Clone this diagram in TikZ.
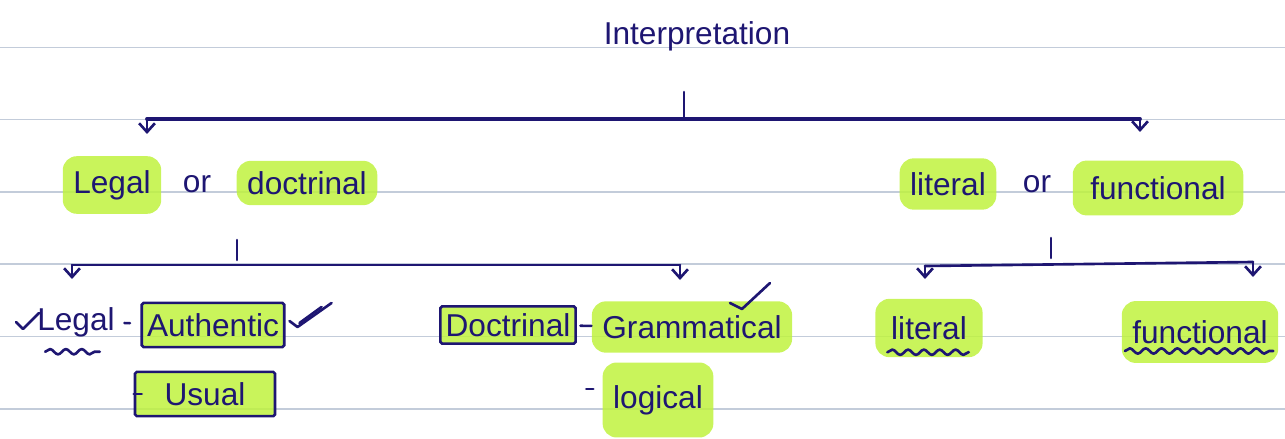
\documentclass[tikz,border=0pt]{standalone}
\usepackage{fontspec}
\setmainfont{Liberation Sans}
\usetikzlibrary{arrows.meta,decorations.pathmorphing}
\definecolor{ink}{HTML}{1E1672}
\definecolor{hlgreen}{HTML}{BFF23E}
\definecolor{ruleline}{HTML}{C3CCDA}

\begin{document}
\begin{tikzpicture}[x=0.02cm, y=-0.02cm,
  every node/.style={font=\fontsize{18}{20}\selectfont, text=ink},
  pen/.style={draw=ink, line width=1.5pt, line cap=round, line join=round},
  >={Straight Barb[length=5pt,width=9pt]},
  hl/.style={fill=hlgreen, fill opacity=0.85, text opacity=1, rounded corners=8pt, inner xsep=6pt, inner ysep=6pt},
  boxed/.style={hl, draw=ink, draw opacity=1, line width=1.5pt, rounded corners=1pt, inner xsep=3pt},
  wavy/.style={pen, decorate, decoration={snake, amplitude=1.5pt, segment length=9pt}}]
  \useasboundingbox (0,0) rectangle (1285,439);

  % ruled paper
  \foreach \y in {47.5,119.5,192,264,336.5,409}
    \draw[ruleline, line width=0.8pt] (0,\y) -- (1285,\y);

  \node (title) at (697,36) {Interpretation};

  % first level
  \node[hl, inner ysep=8pt] (legalA) at (112,185) {Legal};
  \node (orA) at (197,184) {or};
  \node[hl] (doct) at (307,183) {doctrinal};
  \node[hl, inner ysep=8pt] (litA) at (948,184) {literal};
  \node (orB) at (1037,184) {or};
  \node[hl, inner xsep=10pt, inner ysep=9pt] (funcA) at (1158,188) {functional};

  % second level
  \node (legalB) at (76,322) {Legal};
  \node[boxed] (auth) at (213,325) {Authentic};
  \node[boxed, minimum width=2.8cm, minimum height=0.84cm] (usual) at (205,394) {Usual};
  \node[boxed, inner ysep=4pt] (doctB) at (508,325) {Doctrinal};
  \node[hl, inner ysep=8pt] (gram) at (692,327) {Grammatical};
  \node[hl, minimum height=1.5cm] (logic) at (658,400) {logical};
  \node[hl, inner xsep=9pt, inner ysep=10pt] (litB) at (929,328) {literal};
  \node[hl, inner ysep=11pt] (funcB) at (1200,332) {functional};

  % branches
  \coordinate (stemA) at (684,92);
  \coordinate (barA) at (684,119);
  \coordinate (barAL) at (147,119);
  \coordinate (barAR) at (1140,119);
  \draw[pen] (stemA) -- (barA);
  \draw[pen, line width=2.2pt] (barAL) -- (barAR);
  \draw[pen, ->] (barAL) -- ++(0,15);
  \draw[pen, ->] (barAR) -- ++(0,13);

  \coordinate (stemB) at (237,240);
  \coordinate (barB) at (237,260);
  \coordinate (barBL) at (72,265);
  \coordinate (barBR) at (680,265);
  \draw[pen] (stemB) -- (barB);
  \draw[pen] (barBL) -- (barBR);
  \draw[pen, ->] (barBL) -- ++(0,14);
  \draw[pen, ->] (barBR) -- ++(0,15);

  \coordinate (stemC) at (1051,238);
  \coordinate (barC) at (1051,258);
  \coordinate (barCL) at (925,266);
  \coordinate (barCR) at (1253,262);
  \draw[pen] (stemC) -- (barC);
  \draw[pen] (barCL) -- (barCR);
  \draw[pen, ->] (barCL) -- ++(0,13);
  \draw[pen, ->] (barCR) -- ++(0,15);

  % dashes
  \draw[pen, shorten <=2pt, shorten >=6pt] (legalB) -- (auth);
  \draw[pen, shorten <=2pt] (doctB) -- (gram);
  \draw[pen] (logic.west) ++(-16,-11) -- ++(7,0);
  \draw[pen] (usual.west) -- ++(8,0);

  % ticks
  \draw[pen] (legalB.west) ++(-15,0) -- ++(7,7) -- ++(16,-16);
  \draw[pen] (auth.east) ++(4,-4) -- ++(8,6) -- ++(34,-24);
  \draw[pen] (auth.east) ++(14,-2) -- ++(22,-16);
  \draw[pen] (gram.north) ++(38,2) -- ++(12,6) -- ++(28,-26);

  % underlines
  \draw[wavy] ([xshift=8pt,yshift=-5pt]legalB.south west) -- ([xshift=-12pt,yshift=-5pt]legalB.south east);
  \draw[wavy] ([xshift=7pt,yshift=3pt]litB.south west) -- ([xshift=-8pt,yshift=3pt]litB.south east);
  \draw[wavy] ([xshift=2pt,yshift=7pt]funcB.south west) -- ([xshift=-3pt,yshift=7pt]funcB.south east);
\end{tikzpicture}
\end{document}
